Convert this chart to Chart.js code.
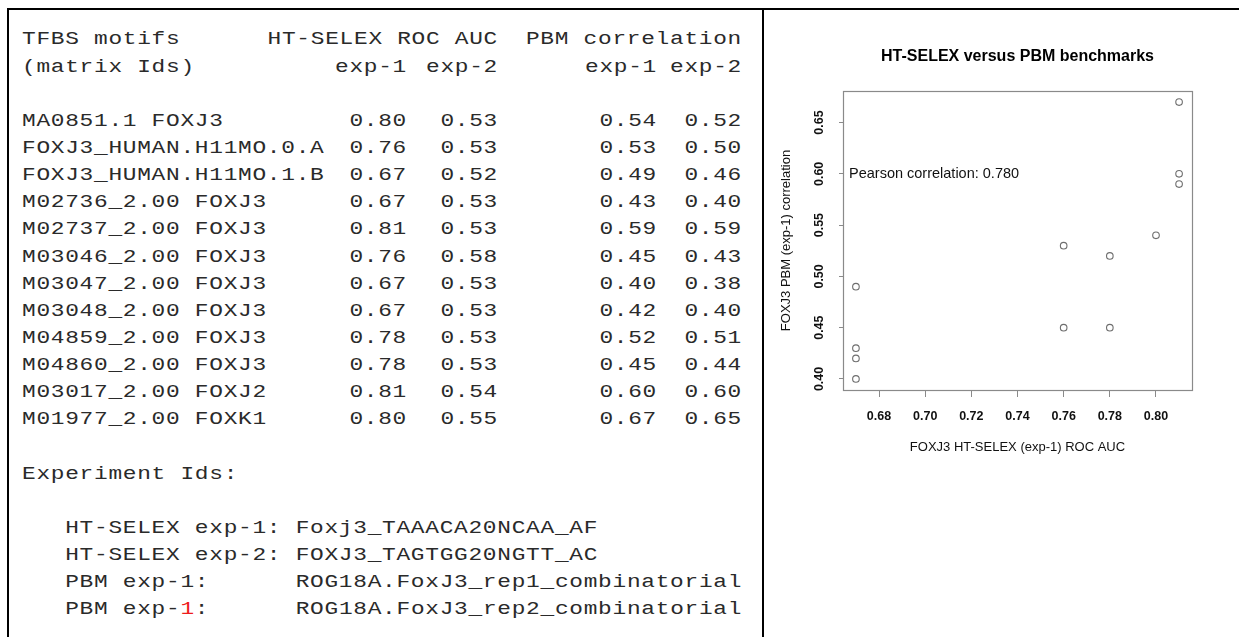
<!DOCTYPE html>
<html>
<head>
<meta charset="utf-8">
<script src="https://cdn.jsdelivr.net/npm/chart.js@4.4.1/dist/chart.umd.min.js"></script>
<style>
  html, body { margin: 0; padding: 0; background: #fff; }
  body { width: 1239px; height: 637px; position: relative; overflow: hidden; }
  .rule { position: absolute; background: #000; }
  #tbl { position: absolute; left: 0; top: 26.4px; width: 760px; }
  .row { position: relative; height: 27.15px; line-height: 27.15px; white-space: pre;
         font-family: "Liberation Mono", monospace; font-size: 19px; letter-spacing: 0.6px; color: #2a2a2a; }
  .cell { position: absolute; top: 0; transform: scaleX(1.2); transform-origin: left center; }
  .r { text-align: right; left: 0; transform-origin: right center; }
  #chartBox { position: absolute; left: 765px; top: 11px; width: 474px; height: 626px; }
</style>
</head>
<body>
<div class="rule" style="left:7px; top:8px; width:1232px; height:2px;"></div>
<div class="rule" style="left:7px; top:8px; width:2px; height:629px;"></div>
<div class="rule" style="left:762px; top:8px; width:2px; height:629px;"></div>
<div id="tbl"></div>
<div id="chartBox"><canvas id="c" width="474" height="626"></canvas></div>
<script>
// ---- table data (left panel) ----
const motifs = ["MA0851.1 FOXJ3", "FOXJ3_HUMAN.H11MO.0.A", "FOXJ3_HUMAN.H11MO.1.B", "M02736_2.00 FOXJ3",
  "M02737_2.00 FOXJ3", "M03046_2.00 FOXJ3", "M03047_2.00 FOXJ3", "M03048_2.00 FOXJ3",
  "M04859_2.00 FOXJ3", "M04860_2.00 FOXJ3", "M03017_2.00 FOXJ2", "M01977_2.00 FOXK1"];
const htSelexExp1 = [0.80, 0.76, 0.67, 0.67, 0.81, 0.76, 0.67, 0.67, 0.78, 0.78, 0.81, 0.80];
const htSelexExp2 = [0.53, 0.53, 0.52, 0.53, 0.53, 0.58, 0.53, 0.53, 0.53, 0.53, 0.54, 0.55];
const pbmExp1 = [0.54, 0.53, 0.49, 0.43, 0.59, 0.45, 0.40, 0.42, 0.52, 0.45, 0.60, 0.67];
const pbmExp2 = [0.52, 0.50, 0.46, 0.40, 0.59, 0.43, 0.38, 0.40, 0.51, 0.44, 0.60, 0.65];
const headerTop = ["TFBS motifs", "HT-SELEX ROC AUC", "PBM correlation"];
const headerSub = ["(matrix Ids)", "exp-1", "exp-2", "exp-1", "exp-2"];
const experimentLabels = ["HT-SELEX exp-1:", "HT-SELEX exp-2:", "PBM exp-1:", "PBM exp-1:"];
const experimentIds = ["Foxj3_TAAACA20NCAA_AF", "FOXJ3_TAGTGG20NGTT_AC",
  "ROG18A.FoxJ3_rep1_combinatorial", "ROG18A.FoxJ3_rep2_combinatorial"];

// ---- scatter data (right panel) ----
const scatterX = [0.80, 0.76, 0.67, 0.67, 0.81, 0.76, 0.67, 0.67, 0.78, 0.78, 0.81, 0.81];
const scatterY = [0.54, 0.53, 0.49, 0.43, 0.59, 0.45, 0.40, 0.42, 0.52, 0.45, 0.60, 0.67];
const xTickValues = [0.68, 0.70, 0.72, 0.74, 0.76, 0.78, 0.80];
const yTickValues = [0.40, 0.45, 0.50, 0.55, 0.60, 0.65];
const chartTitle = "HT-SELEX versus PBM benchmarks";
const xTitle = "FOXJ3 HT-SELEX (exp-1) ROC AUC";
const yTitle = "FOXJ3 PBM (exp-1) correlation";
const annotationText = "Pearson correlation: 0.780";
const annotationX = 0.667;
const annotationY = 0.60;

// ---- build left text table ----
const tbl = document.getElementById('tbl');
const colRight = [407, 498, 657, 742]; // right edges of the 4 value columns
function row() { const d = document.createElement('div'); d.className = 'row'; tbl.appendChild(d); return d; }
function cell(parent, text, leftPx) {
  const s = document.createElement('span'); s.className = 'cell'; s.style.left = leftPx + 'px';
  s.textContent = text; parent.appendChild(s); return s;
}
function rcell(parent, text, rightPx) {
  const s = document.createElement('span'); s.className = 'cell r'; s.style.width = rightPx + 'px';
  s.textContent = text; parent.appendChild(s); return s;
}
let r = row();
cell(r, headerTop[0], 22); rcell(r, headerTop[1], colRight[1]); rcell(r, headerTop[2], colRight[3]);
r = row();
cell(r, headerSub[0], 22);
for (let k = 0; k < 4; k++) rcell(r, headerSub[k + 1], colRight[k]);
row();
motifs.forEach((m, i) => {
  const rr = row();
  cell(rr, m, 22);
  rcell(rr, htSelexExp1[i].toFixed(2), colRight[0]);
  rcell(rr, htSelexExp2[i].toFixed(2), colRight[1]);
  rcell(rr, pbmExp1[i].toFixed(2), colRight[2]);
  rcell(rr, pbmExp2[i].toFixed(2), colRight[3]);
});
row();
r = row(); cell(r, "Experiment Ids:", 22);
row();
experimentLabels.forEach((lab, i) => {
  const rr = row();
  const s = cell(rr, "", 22);
  const padded = ("   " + lab).padEnd(19, " ");
  if (i === 3) {
    const cut = padded.lastIndexOf("1");
    s.appendChild(document.createTextNode(padded.slice(0, cut)));
    const red = document.createElement('span'); red.style.color = '#ee1c1c'; red.textContent = padded[cut];
    s.appendChild(red);
    s.appendChild(document.createTextNode(padded.slice(cut + 1) + experimentIds[i]));
  } else {
    s.textContent = padded + experimentIds[i];
  }
});

// ---- chart ----
Chart.defaults.font.family = "'Liberation Sans', Arial, sans-serif";
const xr = Math.max(...scatterX) - Math.min(...scatterX);
const yr = Math.max(...scatterY) - Math.min(...scatterY);
const xMin = Math.min(...scatterX) - 0.04 * xr, xMax = Math.max(...scatterX) + 0.04 * xr;
const yMin = Math.min(...scatterY) - 0.04 * yr, yMax = Math.max(...scatterY) + 0.04 * yr;

const boxPlugin = {
  id: 'boxAndNote',
  afterDatasetsDraw(chart) {
    const {ctx, chartArea: a, scales} = chart;
    ctx.save();
    ctx.strokeStyle = '#8a8a8a';
    ctx.lineWidth = 1.2;
    ctx.strokeRect(a.left + 0.5, a.top + 0.5, a.right - a.left, a.bottom - a.top);
    ctx.fillStyle = '#111';
    ctx.font = "14.5px 'Liberation Sans', Arial, sans-serif";
    ctx.textAlign = 'left';
    ctx.textBaseline = 'middle';
    ctx.fillText(annotationText, scales.x.getPixelForValue(annotationX), scales.y.getPixelForValue(annotationY));
    ctx.restore();
  }
};

new Chart(document.getElementById('c'), {
  type: 'scatter',
  data: {
    datasets: [{
      data: scatterX.map((x, i) => ({x: x, y: scatterY[i]})),
      pointStyle: 'circle',
      pointRadius: 3.3,
      pointHoverRadius: 3.3,
      borderWidth: 1.1,
      borderColor: '#6e6e6e',
      backgroundColor: 'rgba(0,0,0,0)'
    }]
  },
  options: {
    responsive: false,
    animation: false,
    devicePixelRatio: 1,
    layout: { padding: { left: 0, right: 47, top: 0, bottom: 181.5 } },
    plugins: {
      legend: { display: false },
      tooltip: { enabled: false },
      title: {
        display: true, text: chartTitle, fullSize: false, color: '#000',
        font: { size: 16, weight: 'bold' },
        padding: { top: 36.1, bottom: 24.7 }
      }
    },
    scales: {
      x: {
        type: 'linear', position: 'bottom', min: xMin, max: xMax,
        afterBuildTicks: s => { s.ticks = xTickValues.map(v => ({value: v})); },
        afterFit: s => { s.height = 65.5; },
        border: { display: false },
        grid: { drawOnChartArea: false, drawTicks: true, tickLength: 7, color: '#8a8a8a', lineWidth: 1 },
        ticks: { color: '#111', font: { size: 12.5, weight: 'bold' }, padding: 12, maxRotation: 0, autoSkip: false,
                 callback: v => Number(v).toFixed(2) },
        title: { display: true, text: xTitle, color: '#111', font: { size: 13 }, padding: { top: 0, bottom: 0 } }
      },
      y: {
        type: 'linear', position: 'left', min: yMin, max: yMax,
        afterBuildTicks: s => { s.ticks = yTickValues.map(v => ({value: v})); },
        afterFit: s => { s.width = 78; },
        border: { display: false },
        grid: { drawOnChartArea: false, drawTicks: true, tickLength: 4, color: '#8a8a8a', lineWidth: 1 },
        ticks: { color: '#111', font: { size: 12.5, weight: 'bold' }, padding: 6.8, minRotation: 90, maxRotation: 90,
                 crossAlign: 'center', autoSkip: false, callback: v => Number(v).toFixed(2) },
        title: { display: true, text: yTitle, color: '#111', font: { size: 13 }, padding: { top: 13.9, bottom: 0 } }
      }
    }
  },
  plugins: [boxPlugin]
});
</script>
</body>
</html>
